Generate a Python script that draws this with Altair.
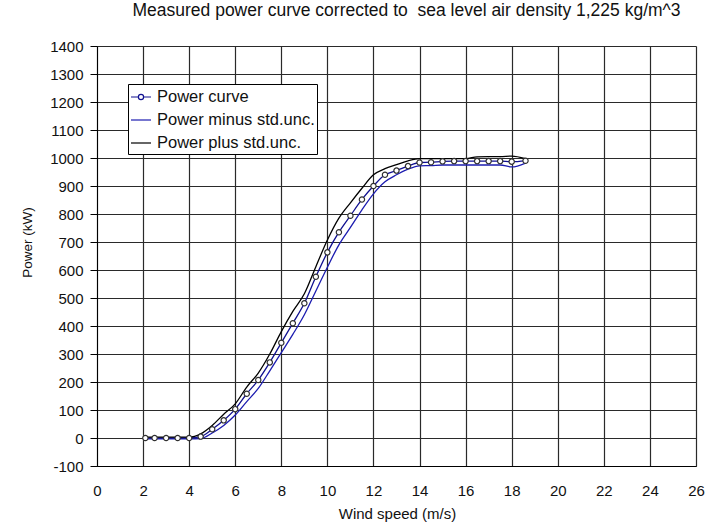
import altair as alt
import pandas as pd

# Measured bins: wind speed (m/s) and power (kW)
wind_speed = [2.1, 2.5, 3.0, 3.5, 4.0, 4.5, 5.0, 5.5, 6.0, 6.5, 7.0, 7.5, 8.0, 8.5,
              9.0, 9.5, 10.0, 10.5, 11.0, 11.5, 12.0, 12.5, 13.0, 13.5, 14.0, 14.5,
              15.0, 15.5, 16.0, 16.5, 17.0, 17.5, 18.0, 18.6]
power_curve = [0, 0, 0, 0, 0, 5, 31, 63, 103, 158, 207, 270, 340, 410,
               481, 576, 663, 735, 794, 852, 900, 940, 955, 971, 984, 985,
               988, 989, 989, 989, 989, 989, 987, 990]
power_minus = [-3, -3, -3, -3, -3, -2, 18, 45, 82, 130, 177, 240, 305, 370,
               440, 525, 610, 690, 752, 815, 872, 915, 940, 960, 972, 973,
               975, 975, 975, 975, 975, 975, 968, 982]
power_plus = [3, 3, 3, 3, 3, 15, 45, 85, 122, 182, 232, 300, 380, 452,
              515, 612, 707, 785, 840, 892, 940, 962, 976, 990, 998, 998,
              998, 998, 998, 1004, 1005, 1005, 1007, 998]

series_names = ["Power curve", "Power minus std.unc.", "Power plus std.unc."]
series_colors = ["#101090", "#1c1cb0", "#000000"]

x_ticks = list(range(0, 27, 2))
y_ticks = list(range(-100, 1401, 100))

rows = []
for name, values in zip(series_names, [power_curve, power_minus, power_plus]):
    for ws, p in zip(wind_speed, values):
        rows.append({"speed": ws, "power": p, "series": name})
data = pd.DataFrame(rows)

FONT = "Liberation Sans"

# legend glyphs: a line with an open circle for the measured curve, plain lines otherwise
curve_symbol = ("M-1,0H-0.26M0.26,0H1M-0.26,0A0.26,0.26,0,1,0,0.26,0"
                "A0.26,0.26,0,1,0,-0.26,0Z")
legend_shapes = [curve_symbol, "stroke", "stroke"]


def make_legend():
    return alt.Legend(
        orient="none", legendX=31, legendY=38, title=None,
        symbolSize=400, symbolStrokeWidth=1.2, symbolOpacity=1,
        symbolFillColor="white",
        labelFont=FONT, labelFontSize=16.5, labelColor="#111", labelOffset=5,
        rowPadding=3, padding=2, fillColor="white", strokeColor="black",
        cornerRadius=0,
    )


def x_enc():
    return alt.X(
        "speed:Q",
        scale=alt.Scale(domain=[0, 26], nice=False, zero=False),
        axis=alt.Axis(
            values=x_ticks, title="Wind speed (m/s)", ticks=False, labelPadding=17,
            labelFont=FONT, labelFontSize=15, labelColor="#111", labelFlush=False,
            labelOverlap=False,
            titleFont=FONT, titleFontSize=15, titleFontWeight="normal", titleColor="#111",
            titleX=300, titleY=40, titleBaseline="top", titleAlign="center",
            grid=True, gridColor="#2a2a2a", gridWidth=1.2, gridOpacity=1,
            domainColor="black",
        ),
    )


def y_enc():
    return alt.Y(
        "power:Q",
        scale=alt.Scale(domain=[-100, 1400], nice=False, zero=False),
        axis=alt.Axis(
            values=y_ticks, title="Power (kW)", tickSize=7, tickColor="black",
            labelPadding=7, labelExpr="'' + datum.value",
            labelFont=FONT, labelFontSize=15, labelColor="#111", labelFlush=False,
            labelOverlap=False, labelBound=False, labelSeparation=0,
            titleFont=FONT, titleFontSize=13.5, titleFontWeight="normal", titleColor="#111",
            titleAngle=270, titleX=-70, titleY=196, titleBaseline="middle", titleAlign="center",
            grid=True, gridColor="#2a2a2a", gridWidth=1.2, gridOpacity=1,
            domainColor="black",
        ),
    )


lines = alt.Chart(data).mark_line(strokeWidth=1.3, interpolate="monotone").encode(
    x=x_enc(),
    y=y_enc(),
    color=alt.Color(
        "series:N",
        scale=alt.Scale(domain=series_names, range=series_colors),
        legend=make_legend(),
    ),
    order=alt.Order("speed:Q"),
)

# invisible layer that only supplies the per-series legend glyphs
legend_glyphs = alt.Chart(data).mark_point(opacity=0).encode(
    x=x_enc(),
    y=y_enc(),
    shape=alt.Shape(
        "series:N",
        scale=alt.Scale(domain=series_names, range=legend_shapes),
        legend=make_legend(),
    ),
)

markers = alt.Chart(data).transform_filter(
    alt.datum.series == "Power curve"
).mark_point(shape="circle", filled=True, fill="white", stroke="#303030",
             strokeWidth=1.2, size=28, opacity=1).encode(
    x=x_enc(),
    y=y_enc(),
)

chart = (lines + legend_glyphs + markers).properties(
    width=599,
    height=420,
    autosize="none",
    padding={"left": 97, "top": 46, "right": 22, "bottom": 63},
    title=alt.TitleParams(
        "Measured power curve corrected to\u00a0 sea level air density 1,225 kg/m^3",
        font=FONT, fontSize=17.5, fontWeight="normal", color="#111",
        anchor="middle", offset=20, dx=10,
    ),
).configure_view(stroke="black", strokeWidth=1).configure(background="white")

chart.save("out.html", embed_options={"renderer": "svg", "actions": False})
